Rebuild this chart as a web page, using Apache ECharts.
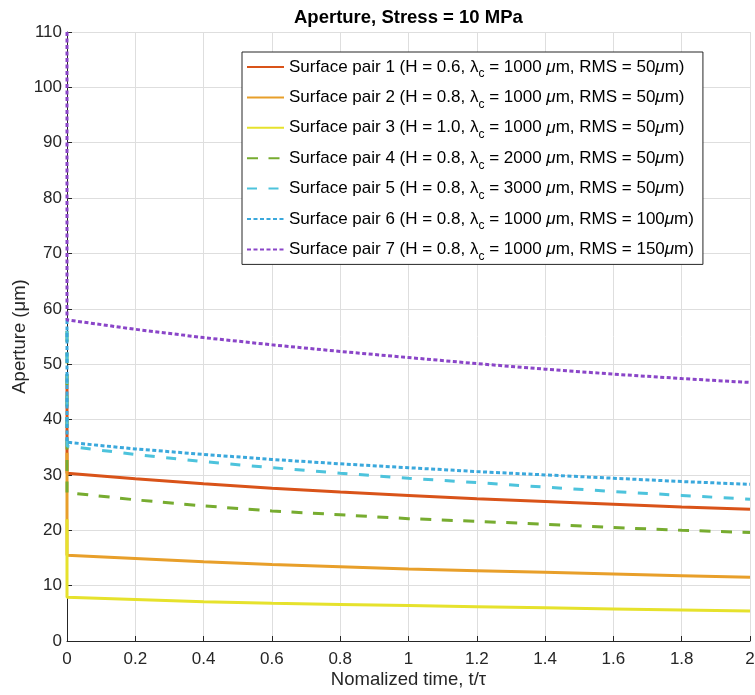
<!DOCTYPE html>
<html>
<head>
<meta charset="utf-8">
<title>Aperture, Stress = 10 MPa</title>
<script src="https://cdn.jsdelivr.net/npm/echarts@6/dist/echarts.min.js"></script>
<style>
  html, body { margin: 0; padding: 0; background: #fff; }
  #chart { width: 755px; height: 695px; }
</style>
</head>
<body>
<div id="chart"></div>
<script>
// Normalized time samples t/tau
const timeSteps = [0, 0.2, 0.4, 0.6, 0.8, 1.0, 1.2, 1.4, 1.6, 1.8, 2.0];

// Aperture (um) right after loading, before creep starts (t = 0)
const initialAperture = [48, 34, 22, 56, 56, 58, 110];

// Aperture (um) over time for each surface pair
const pair1 = [30.3, 29.3, 28.4, 27.6, 26.9, 26.3, 25.7, 25.2, 24.7, 24.2, 23.8];
const pair2 = [15.5, 14.9, 14.3, 13.8, 13.4, 13.0, 12.7, 12.4, 12.1, 11.8, 11.5];
const pair3 = [7.9, 7.5, 7.1, 6.8, 6.6, 6.4, 6.2, 6.0, 5.8, 5.6, 5.4];
const pair4 = [26.8, 25.5, 24.4, 23.5, 22.8, 22.1, 21.6, 21.1, 20.5, 20.0, 19.6];
const pair5 = [35.2, 33.7, 32.4, 31.3, 30.3, 29.4, 28.6, 27.8, 27.0, 26.3, 25.6];
const pair6 = [35.9, 34.7, 33.7, 32.8, 32.0, 31.3, 30.6, 30.0, 29.4, 28.8, 28.3];
const pair7 = [58.0, 56.3, 54.8, 53.5, 52.3, 51.2, 50.1, 49.1, 48.2, 47.4, 46.7];

// Surface parameters: Hurst exponent, cutoff wavelength (um), RMS roughness (um)
const hurst = ['0.6', '0.8', '1.0', '0.8', '0.8', '0.8', '0.8'];
const cutoff = ['1000', '1000', '1000', '2000', '3000', '1000', '1000'];
const rms = ['50', '50', '50', '50', '50', '100', '150'];

const xTicks = { min: 0, max: 2, interval: 0.2 };
const yTicks = { min: 0, max: 110, interval: 10 };

const allPairs = [pair1, pair2, pair3, pair4, pair5, pair6, pair7];
const colors = ['#D95319', '#E89F2A', '#E6E22C', '#77AC30', '#4DC3DC', '#3AA8DC', '#8A45C8'];
const lineTypes = ['solid', 'solid', 'solid', [11, 10.5], [10, 11.5], [4, 2.5], [4, 2.5]];

const FONT = 'Liberation Sans, Arial, Helvetica, sans-serif';
const INK = '#262626';

const names = allPairs.map((_, i) => 'Surface pair ' + (i + 1));

const series = allPairs.map((vals, i) => ({
  name: names[i],
  type: 'line',
  showSymbol: false,
  symbol: 'none',
  clip: false,
  color: colors[i],
  lineStyle: { width: 3, color: colors[i], type: lineTypes[i] },
  emphasis: { disabled: true },
  data: [[timeSteps[0], initialAperture[i]]].concat(vals.map((v, k) => [timeSteps[k], v])),
  z: 2 + i
}));

const chart = echarts.init(document.getElementById('chart'), null, { renderer: 'canvas' });

chart.setOption({
  animation: false,
  backgroundColor: '#ffffff',
  title: {
    text: 'Aperture, Stress = 10 MPa',
    left: 294,
    top: 8,
    padding: 0,
    textStyle: { fontFamily: FONT, fontSize: 18.5, fontWeight: 'bold', color: '#000' }
  },
  grid: { left: 67, right: 5, top: 32, bottom: 54, outerBoundsMode: 'none' },
  legend: {
    orient: 'vertical',
    left: 242,
    top: 52,
    padding: [2, 9, 2, 4],
    itemGap: 4.4,
    itemWidth: 37,
    itemHeight: 14,
    backgroundColor: '#fff',
    borderColor: '#262626',
    borderWidth: 1,
    itemStyle: { opacity: 0 },
    data: names,
    formatter: function (name) {
      const i = names.indexOf(name);
      return name + ' (H = ' + hurst[i] + ', {l|λ}{sub|c} = ' + cutoff[i] +
        ' {mu|μ}m, RMS = ' + rms[i] + '{mu|μ}m)';
    },
    textStyle: {
      fontFamily: FONT,
      fontSize: 17,
      lineHeight: 26,
      color: '#000',
      rich: {
        l: { fontFamily: FONT, fontSize: 17, lineHeight: 26, color: '#000' },
        mu: { fontFamily: FONT, fontSize: 17, lineHeight: 26, fontStyle: 'italic', color: '#000' },
        sub: { fontFamily: FONT, fontSize: 12, lineHeight: 12, verticalAlign: 'bottom', color: '#000' }
      }
    }
  },
  xAxis: {
    type: 'value',
    min: xTicks.min,
    max: xTicks.max,
    interval: xTicks.interval,
    name: 'Nomalized time, t/τ',
    nameLocation: 'middle',
    nameGap: 29,
    nameMoveOverlap: false,
    nameTextStyle: { fontFamily: FONT, fontSize: 18.5, color: INK },
    axisLine: { show: true, onZero: false, lineStyle: { color: INK, width: 1 } },
    axisTick: { show: true, inside: true, length: 5, lineStyle: { color: INK } },
    axisLabel: {
      fontFamily: FONT, fontSize: 17, color: INK, margin: 10,
      formatter: v => String(Math.round(v * 10) / 10)
    },
    splitLine: { show: true, lineStyle: { color: '#dedede', width: 1 } }
  },
  yAxis: {
    type: 'value',
    min: yTicks.min,
    max: yTicks.max,
    interval: yTicks.interval,
    name: 'Aperture (μm)',
    nameLocation: 'middle',
    nameGap: 38,
    nameMoveOverlap: false,
    nameTextStyle: { fontFamily: FONT, fontSize: 18.5, color: INK },
    axisLine: { show: true, onZero: false, lineStyle: { color: INK, width: 1 } },
    axisTick: { show: true, inside: true, length: 5, lineStyle: { color: INK } },
    axisLabel: { fontFamily: FONT, fontSize: 17, color: INK, margin: 5 },
    splitLine: { show: true, lineStyle: { color: '#dedede', width: 1 } }
  },
  series: series
});
</script>
</body>
</html>
